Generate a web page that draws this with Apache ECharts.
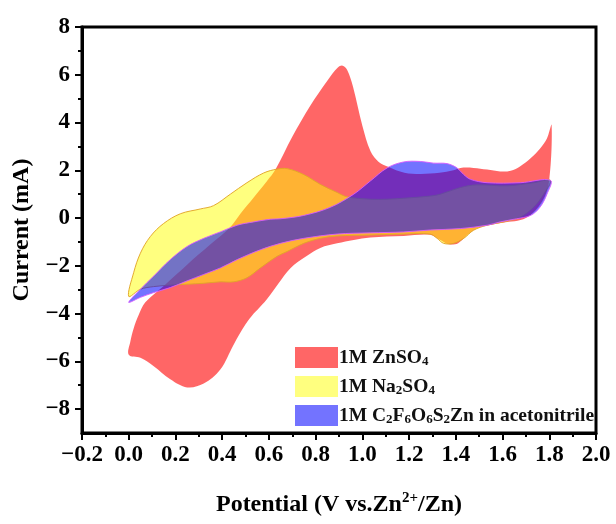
<!DOCTYPE html>
<html>
<head>
<meta charset="utf-8">
<script src="https://cdn.jsdelivr.net/npm/echarts@6/dist/echarts.min.js"></script>
<style>
  html, body { margin: 0; padding: 0; background: #fff; }
  #chart { width: 616px; height: 524px; }
</style>
</head>
<body>
<div id="chart"></div>
<script>
// Cyclic voltammetry loops: [potential (V vs Zn2+/Zn), current (mA)]
// Each loop runs the anodic sweep 0 -> 1.8 V, then the cathodic sweep back.
const znso4Loop = [
  [0.0,-5.72],[0.007,-5.17],[0.021,-4.62],[0.042,-4.07],[0.071,-3.53],[0.15,-2.84],
  [0.25,-1.95],[0.35,-1.1],[0.435,-0.37],[0.478,0.18],[0.535,0.86],[0.592,1.55],
  [0.628,2.03],[0.70,3.4],[0.777,4.7],[0.85,5.75],[0.895,6.3],[0.915,6.38],[0.935,6.2],
  [0.96,5.5],[1.0,3.87],[1.035,2.8],[1.07,2.35],[1.11,2.15],[1.18,1.9],[1.25,1.85],
  [1.33,1.9],[1.39,2.0],[1.42,2.1],[1.476,2.1],[1.534,2.03],[1.59,1.95],[1.635,1.98],
  [1.676,2.17],[1.72,2.5],[1.76,2.9],[1.79,3.33],[1.81,3.9],
  [1.80,1.6],[1.77,0.7],[1.7,0.0],[1.6,-0.2],[1.5,-0.4],[1.45,-0.7],[1.41,-1.05],
  [1.37,-1.1],[1.33,-0.9],[1.29,-0.7],[1.177,-0.75],[1.034,-0.81],[0.963,-0.92],
  [0.892,-1.06],[0.82,-1.25],[0.76,-1.6],[0.692,-2.1],[0.64,-2.75],[0.592,-3.39],
  [0.55,-3.85],[0.535,-4.0],[0.50,-4.45],[0.449,-5.3],[0.392,-6.34],[0.321,-6.93],
  [0.25,-7.09],[0.178,-6.75],[0.107,-6.2],[0.05,-5.85]
];

const na2so4Loop = [
  [0.0,-3.28],[0.021,-2.29],[0.05,-1.47],[0.092,-0.78],[0.149,-0.23],[0.221,0.18],
  [0.306,0.38],[0.363,0.52],[0.435,1.0],[0.506,1.48],[0.578,1.89],[0.635,2.05],
  [0.678,2.07],[0.749,1.82],[0.82,1.41],[0.892,1.07],[0.934,0.89],[1.034,0.79],
  [1.106,0.79],[1.177,0.83],[1.29,0.92],[1.334,1.0],[1.42,1.28],[1.49,1.39],
  [1.62,1.35],[1.733,1.48],[1.805,1.58],
  [1.776,1.0],[1.733,0.45],[1.676,0.04],[1.605,-0.16],[1.534,-0.30],[1.476,-0.51],
  [1.434,-0.85],[1.39,-1.06],[1.348,-1.06],[1.32,-0.85],[1.29,-0.67],[1.177,-0.67],
  [1.034,-0.71],[0.892,-0.75],[0.82,-0.85],[0.749,-1.06],[0.678,-1.4],[0.635,-1.6],
  [0.563,-2.09],[0.506,-2.5],[0.449,-2.67],[0.392,-2.67],[0.321,-2.73],[0.25,-2.77],
  [0.178,-2.81],[0.107,-2.87],[0.05,-2.98]
];

const triflateLoop = [
  [0.0,-3.53],[0.05,-2.98],[0.107,-2.43],[0.178,-1.74],[0.25,-1.19],[0.321,-0.85],
  [0.392,-0.58],[0.464,-0.30],[0.535,-0.16],[0.606,-0.05],[0.649,-0.03],[0.749,0.11],
  [0.863,0.45],[0.963,1.0],[1.034,1.55],[1.106,2.1],[1.177,2.35],[1.248,2.37],
  [1.305,2.3],[1.362,2.28],[1.405,2.1],[1.434,1.82],[1.463,1.62],[1.534,1.48],
  [1.676,1.48],[1.805,1.58],
  [1.79,1.0],[1.76,0.45],[1.72,0.11],[1.66,-0.03],[1.59,-0.16],[1.534,-0.30],
  [1.42,-0.44],[1.29,-0.5],[1.177,-0.58],[1.034,-0.62],[0.892,-0.67],[0.749,-0.85],
  [0.649,-1.06],[0.563,-1.33],[0.464,-1.74],[0.392,-2.09],[0.321,-2.36],[0.25,-2.63],
  [0.178,-2.91],[0.107,-3.12],[0.05,-3.32]
];

const seriesNames = ['1M ZnSO4', '1M Na2SO4', '1M C2F6O6S2Zn in acetonitrile'];
const legendLabels = [
  '1M ZnSO{sub|4}',
  '1M Na{sub|2}SO{sub|4}',
  '1M C{sub|2}F{sub|6}O{sub|6}S{sub|2}Zn in acetonitrile'
];
const yMajorTicks = [-8, -6, -4, -2, 0, 2, 4, 6, 8];
const yMinorTicks = [-7, -5, -3, -1, 1, 3, 5, 7];

const SERIF = "'Liberation Serif', 'Times New Roman', serif";
const minusFmt = (v, digits) => {
  const s = Math.abs(v).toFixed(digits);
  return v < -1e-9 ? '\u2212' + s : s;
};

// A filled closed loop drawn through the cartesian coordinate system.
function loopSeries(name, pts, fill, stroke) {
  return {
    type: 'custom',
    name: name,
    coordinateSystem: 'cartesian2d',
    data: pts,
    encode: { x: 0, y: 1 },
    itemStyle: { color: fill },
    silent: true,
    renderItem: function (params, api) {
      if (params.dataIndex !== 0) return null;
      const points = pts.map(p => api.coord(p));
      return {
        type: 'polygon',
        shape: { points: points, smooth: 0.35 },
        style: {
          fill: fill,
          stroke: stroke || null,
          lineWidth: stroke ? 1 : 0
        }
      };
    }
  };
}

const chart = echarts.init(document.getElementById('chart'), null, { renderer: 'canvas' });

const axisLineStyle = { color: '#000', width: 3 };

chart.setOption({
  animation: false,
  backgroundColor: '#fff',
  grid: {
    left: 82, right: 20, top: 27, bottom: 82,
    show: true, borderColor: '#000', borderWidth: 3
  },
  legend: {
    orient: 'vertical',
    left: 295, top: 347,
    padding: 0,
    itemWidth: 43, itemHeight: 21, itemGap: 8,
    icon: 'rect',
    data: seriesNames,
    formatter: name => legendLabels[seriesNames.indexOf(name)],
    textStyle: {
      fontFamily: SERIF, fontWeight: 'bold', fontSize: 19.5, color: '#111',
      padding: [0, 0, 0, -4],
      lineHeight: 21,
      rich: {
        sub: { fontFamily: SERIF, fontWeight: 'bold', fontSize: 13, color: '#111',
               verticalAlign: 'bottom', lineHeight: 12 }
      }
    }
  },
  xAxis: [{
    type: 'value', min: -0.2, max: 2.0, interval: 0.2,
    axisLine: { onZero: false, lineStyle: axisLineStyle },
    axisTick: { inside: false, length: 7, lineStyle: { color: '#000', width: 2 } },
    minorTick: { show: true, splitNumber: 2, length: 4, lineStyle: { color: '#000', width: 2 } },
    splitLine: { show: false },
    axisLabel: {
      margin: 11, color: '#000', fontFamily: SERIF, fontWeight: 'bold', fontSize: 23,
      formatter: v => minusFmt(v, 1)
    },
    name: 'Potential (V vs.Zn{sup|2+}/Zn)',
    nameLocation: 'middle', nameGap: 58,
    nameTextStyle: {
      fontFamily: SERIF, fontWeight: 'bold', fontSize: 24, color: '#000', lineHeight: 28,
      rich: {
        sup: { fontFamily: SERIF, fontWeight: 'bold', fontSize: 15, color: '#000',
               verticalAlign: 'top', lineHeight: 15 }
      }
    }
  }],
  yAxis: [{
    type: 'value', min: -9, max: 8, interval: 1,
    axisLine: { onZero: false, lineStyle: axisLineStyle },
    axisTick: { inside: false, length: 7, customValues: yMajorTicks,
                lineStyle: { color: '#000', width: 2 } },
    splitLine: { show: false },
    axisLabel: {
      margin: 12, color: '#000', fontFamily: SERIF, fontWeight: 'bold', fontSize: 23,
      customValues: yMajorTicks,
      formatter: v => minusFmt(v, 0)
    },
    name: 'Current (mA)',
    nameLocation: 'middle', nameGap: 48,
    nameTextStyle: { fontFamily: SERIF, fontWeight: 'bold', fontSize: 24, color: '#000' }
  }, {
    // minor ticks at the odd current values
    type: 'value', min: -9, max: 8, interval: 1, position: 'left',
    axisLine: { show: false, onZero: false },
    axisTick: { inside: false, length: 4, customValues: yMinorTicks,
                lineStyle: { color: '#000', width: 2 } },
    axisLabel: { show: false },
    splitLine: { show: false }
  }],
  series: [
    loopSeries(seriesNames[0], znso4Loop, 'rgba(255,0,0,0.6)', null),
    loopSeries(seriesNames[1], na2so4Loop, 'rgba(255,255,0,0.5)', 'rgba(225,165,40,0.95)'),
    loopSeries(seriesNames[2], triflateLoop, 'rgba(0,0,255,0.55)', 'rgba(215,90,255,0.9)')
  ]
});
</script>
</body>
</html>
